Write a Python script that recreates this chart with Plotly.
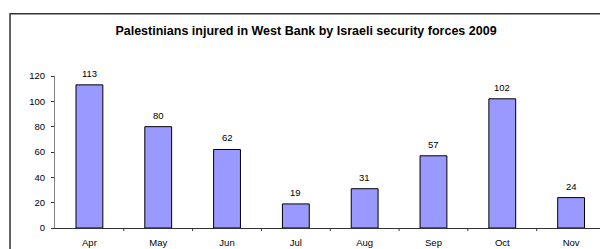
import plotly.graph_objects as go

months = ["Apr", "May", "Jun", "Jul", "Aug", "Sep", "Oct", "Nov"]
injured = [113, 80, 62, 19, 31, 57, 102, 24]
y_ticks = [0, 20, 40, 60, 80, 100, 120]
title = "Palestinians injured in West Bank by Israeli security forces 2009"

FONT = "Liberation Sans, Arial, sans-serif"
SMALL = 9.5

fig = go.Figure()
fig.add_trace(go.Bar(
    x=list(range(len(months))), y=injured,
    width=0.39,
    marker=dict(color="#9999FF", line=dict(color="#000000", width=1)),
    hoverinfo="skip",
))

for i, v in enumerate(injured):
    fig.add_annotation(x=i, y=v, text=str(v), showarrow=False,
                       yanchor="bottom", yshift=4,
                       font=dict(family=FONT, size=SMALL, color="#000000"))

fig.update_xaxes(
    range=[-0.5, 7.42],
    tickmode="array",
    tickvals=list(range(len(months))),
    ticktext=months,
    ticks="",
    showgrid=False, zeroline=False,
    showline=True, linecolor="#333333", linewidth=1,
    tickfont=dict(family=FONT, size=SMALL, color="#000000"),
    ticklabelstandoff=6,
    automargin=False,
    fixedrange=True,
)
fig.update_yaxes(
    range=[0, 120],
    tickmode="array", tickvals=y_ticks,
    ticks="outside", ticklen=3, tickcolor="#333333",
    showgrid=False, zeroline=False,
    showline=True, linecolor="#808080", linewidth=1,
    tickfont=dict(family=FONT, size=SMALL, color="#000000"),
    ticklabelstandoff=4,
    automargin=False,
    fixedrange=True,
)

shapes = []
for k in range(1, len(months)):
    shapes.append(dict(type="line", xref="x", yref="paper",
                       x0=k - 0.5, x1=k - 0.5, y0=0, y1=-0.02,
                       line=dict(color="#333333", width=1)))
shapes.append(dict(type="rect", xref="paper", yref="paper",
                   x0=-0.0825, x1=1.2, y0=-0.5, y1=1.409,
                   line=dict(color="#333333", width=1.5),
                   fillcolor="rgba(0,0,0,0)", layer="below"))

fig.update_layout(
    width=600, height=249,
    margin=dict(l=54.5, r=0, t=76, b=21.3),
    paper_bgcolor="white", plot_bgcolor="white",
    showlegend=False,
    title=dict(text="<b>" + title + "</b>", x=306 / 600, xanchor="center",
               y=1 - 31 / 249, yanchor="middle",
               font=dict(family=FONT, size=12.5, color="#000000"),
               automargin=False),
    shapes=shapes,
    bargap=0.6,
)

fig.write_html("out.html", config={"displayModeBar": False},
               post_script="document.body.style.margin='0';document.body.style.overflow='hidden';")
